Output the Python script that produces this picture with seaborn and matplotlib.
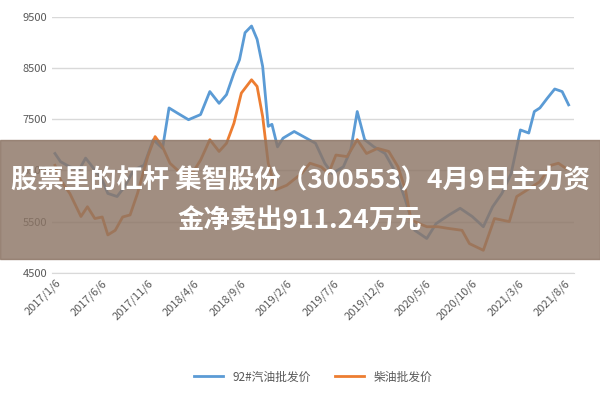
import numpy as np
import pandas as pd
import matplotlib.pyplot as plt
import seaborn as sns
from matplotlib.patches import Rectangle

tick_labels = ["2017/1/6", "2017/6/6", "2017/11/6", "2018/4/6", "2018/9/6", "2019/2/6",
               "2019/7/6", "2019/12/6", "2020/5/6", "2020/10/6", "2021/3/6", "2021/8/6"]

# months since 2017/1/6
gas_m = [0, .6, 1.6, 2.6, 3.3, 3.7, 5.1, 5.7, 6.7, 7.5, 8.5, 9.6, 10.6, 11.6, 12.3, 13.2, 14.4,
         15.7, 16.7, 17.7, 18.5, 19.3, 19.9, 20.5, 21.2, 21.8, 22.4, 23.0, 23.4, 24.0, 24.6, 25.8,
         27.1, 28.1, 29.1, 29.9, 31.1, 31.9, 32.6, 33.4, 34.4, 35.6, 36.8, 37.8, 38.8, 40.1, 41.1,
         42.5, 43.7, 45.0, 46.2, 47.2, 48.2, 49.2, 50.2, 51.1, 51.7, 52.3, 53.1, 53.9, 54.7, 55.4]
gas = [6830, 6670, 6570, 6510, 6740, 6650, 6310, 6050, 5990, 6180, 6510, 6600, 7100, 6930, 7720,
       7620, 7490, 7590, 8040, 7810, 7980, 8400, 8660, 9190, 9320, 9060, 8530, 7360, 7400, 6960,
       7130, 7260, 7130, 7030, 6640, 6440, 6570, 6900, 7650, 7100, 6960, 6830, 6440, 5920, 5330,
       5170, 5460, 5630, 5760, 5600, 5400, 5790, 6050, 6440, 7290, 7230, 7650, 7720, 7910, 8090,
       8040, 7780]

diesel_m = [0, .6, 1.6, 2.8, 3.5, 4.3, 5.1, 5.7, 6.5, 7.3, 8.1, 8.9, 10.0, 10.8, 11.6, 12.4, 13.6,
            14.8, 15.7, 16.7, 17.7, 18.5, 19.3, 20.1, 21.2, 21.8, 22.4, 23.0, 23.8, 25.0, 26.6,
            27.5, 28.7, 29.5, 30.3, 31.5, 32.6, 33.6, 34.8, 36.0, 37.0, 37.8, 38.4, 39.3, 40.1,
            41.3, 42.3, 43.9, 44.7, 46.2, 47.4, 48.2, 49.0, 49.8, 50.6, 52.3, 53.5, 54.3, 55.1]
diesel = [6600, 6310, 6050, 5600, 5790, 5560, 5590, 5240, 5330, 5590, 5630, 6050, 6770, 7160, 6960,
          6640, 6440, 6440, 6700, 7100, 6870, 7030, 7420, 8010, 8270, 8140, 7550, 6640, 6120, 6210,
          6440, 6640, 6570, 6440, 6800, 6770, 7100, 6830, 6930, 6870, 6570, 6120, 5530, 5460, 5400,
          5400, 5370, 5330, 5070, 4940, 5560, 5530, 5500, 5990, 6080, 6280, 6600, 6640, 6540]

plt.rcParams['font.family'] = ['Noto Sans CJK SC', 'DejaVu Sans']
fig = plt.figure(figsize=(6, 4), dpi=100)
ax = fig.add_axes([0.087, 0.318, 0.87, 0.64])

df = pd.concat([
    pd.DataFrame({"m": gas_m, "v": gas, "s": "92#汽油批发价"}),
    pd.DataFrame({"m": diesel_m, "v": diesel, "s": "柴油批发价"}),
])
sns.lineplot(data=df, x="m", y="v", hue="s", palette=["#5B9BD5", "#ED7D31"],
             linewidth=2, ax=ax, sort=False)

ax.set_ylim(4500, 9500)
ax.set_xlim(-0.3, 56)
ax.set_yticks([4500, 5500, 6500, 7500, 8500, 9500])
ax.set_xticks(np.arange(0, 60, 5))
ax.set_xticklabels(tick_labels, rotation=45, ha="right", rotation_mode="anchor")
ax.tick_params(colors="#595959", labelsize=8, length=0)
ax.grid(axis="y", color="#D9D9D9", linewidth=1)
for s in ["top", "right", "left"]:
    ax.spines[s].set_visible(False)
ax.spines["bottom"].set_color("#D9D9D9")
ax.set_xlabel("")
ax.set_ylabel("")
ax.legend(loc="upper center", bbox_to_anchor=(0.5, -0.34), ncol=2, frameon=False,
          fontsize=8.5, labelcolor="#595959", handlelength=2.5)

fig.patches.append(Rectangle((0, 0.352), 1, 0.298, transform=fig.transFigure,
                             color="#8C7565", alpha=0.82, zorder=5))
fig.text(0.5, 0.548, "股票里的杠杆 集智股份（300553）4月9日主力资", ha="center", va="center",
         color="white", fontsize=19, fontweight="bold", zorder=6)
fig.text(0.5, 0.448, "金净卖出911.24万元", ha="center", va="center",
         color="white", fontsize=19, fontweight="bold", zorder=6)

fig.savefig("out.png", dpi=100)
